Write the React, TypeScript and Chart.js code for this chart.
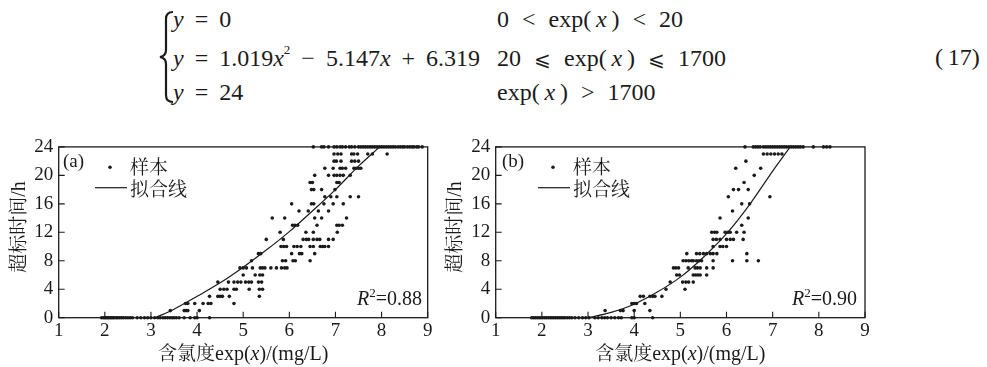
import React, { useEffect, useRef } from 'react';
import { Chart, registerables } from 'chart.js';

Chart.register(...registerables);

const INK = '#1b1b1b';
const SERIF = '"Liberation Serif", "Times New Roman", serif';
const CJK = '"Noto Serif CJK SC", "Noto Sans CJK SC", sans-serif';

// ---- axis ticks ----
const xTickValues = [1, 2, 3, 4, 5, 6, 7, 8, 9];
const yTickValues = [0, 4, 8, 12, 16, 20, 24];

// ---- hours (y) for the sample rows ----
const hours = [0, 1, 2, 3, 4, 5, 6, 7, 8, 9, 10, 11, 12, 13, 14, 15, 16, 17, 18, 19, 20, 21, 22, 23, 24];

// ---- panel (a): chloride values observed at each hour level ----
const sampleA = [
  [1.93, 1.97, 2.0, 2.03, 2.06, 2.09, 2.12, 2.15, 2.18, 2.21, 2.25, 2.28, 2.32, 2.36, 2.4, 2.45, 2.5, 2.55, 2.6, 2.7, 2.78, 2.86, 2.93, 3.0, 3.08, 3.15, 3.2, 3.26, 3.31, 3.36, 3.41, 3.46, 3.5, 3.55, 3.61, 3.72, 3.85, 3.95, 4.0, 4.27],
  [3.42, 3.72, 3.76, 3.8, 4.05],
  [3.75, 3.8, 3.95, 4.13, 4.24, 4.3, 4.8],
  [4.27, 4.45, 4.5, 4.55, 4.7, 5.35],
  [4.5, 4.58, 4.65, 4.8, 4.85, 5.13, 5.35, 5.42],
  [4.45, 4.68, 4.8, 4.88, 4.95, 5.05, 5.12, 5.18, 5.33, 5.4],
  [5.0, 5.26, 5.36, 5.42],
  [4.93, 5.0, 5.07, 5.2, 5.37, 5.42, 5.47, 5.6, 5.72, 5.83, 5.9, 5.95],
  [5.18, 5.85, 5.92, 6.08, 6.13, 6.45],
  [5.33, 5.38, 6.05, 6.22, 6.27, 6.55],
  [5.82, 5.88, 5.94, 6.1, 6.17, 6.25, 6.45, 6.52, 6.67, 6.72, 6.77, 6.85],
  [5.5, 5.87, 6.3, 6.37, 6.42, 6.52, 6.6, 6.66, 6.85, 6.95],
  [5.8, 6.36, 6.52, 7.04],
  [6.07, 6.12, 6.18, 6.6, 7.03, 7.08, 7.15],
  [5.63, 5.9, 6.55, 6.7, 7.24],
  [6.21, 6.41, 6.63, 6.85],
  [6.05, 6.48, 6.53, 6.75, 6.95, 7.17],
  [6.77, 6.9, 7.03, 7.32, 7.5],
  [6.48, 6.53, 6.7, 6.99],
  [6.45, 6.5, 7.03, 7.08],
  [6.55, 6.85, 6.97, 7.03, 7.1, 7.17, 7.32],
  [6.77, 6.95, 7.1, 7.15, 7.22, 7.4, 7.45, 7.5, 7.55],
  [6.97, 7.02, 7.12, 7.35, 7.42, 7.5],
  [6.97, 7.05, 7.12, 7.35, 7.4, 7.48, 7.7, 7.8, 8.12],
  [6.52, 6.7, 6.75, 6.85, 6.97, 7.03, 7.1, 7.15, 7.22, 7.3, 7.35, 7.42, 7.5, 7.55, 7.6, 7.65, 7.7, 7.75, 7.8, 7.85, 7.9, 7.95, 8.0, 8.05, 8.1, 8.15, 8.2, 8.25, 8.3, 8.36, 8.41, 8.46, 8.5, 8.56, 8.61, 8.66, 8.7, 8.76, 8.8, 8.88],
];
const fitAX = [3.1, 3.5, 4.0, 4.5, 5.0, 5.5, 6.0, 6.5, 7.0, 7.5, 7.96];
const fitAY = [0, 1.2, 3.0, 4.9, 7.1, 9.5, 12.1, 15.0, 18.0, 21.3, 24];

// ---- panel (b) ----
const sampleB = [
  [1.78, 1.82, 1.86, 1.9, 1.94, 1.98, 2.02, 2.06, 2.1, 2.14, 2.18, 2.22, 2.26, 2.3, 2.34, 2.38, 2.42, 2.46, 2.5, 2.55, 2.6, 2.65, 2.72, 2.8, 2.88, 2.95, 3.02, 3.15, 3.22, 3.3, 3.36, 3.42, 3.5, 3.58, 3.66, 3.72, 3.95, 4.0, 4.4],
  [3.37, 3.7, 3.76, 4.0, 4.34],
  [3.95, 4.0, 4.05, 4.23],
  [4.13, 4.2, 4.34, 4.4, 4.45, 4.6],
  [4.69, 5.1],
  [4.78, 5.05, 5.12, 5.18, 5.28],
  [4.92, 4.98, 5.28, 5.33, 5.38, 5.43, 5.57],
  [4.85, 4.9, 4.96, 5.17, 5.32, 5.37, 5.43, 5.57, 5.71],
  [5.06, 5.12, 5.18, 5.24, 5.28, 5.35, 5.41, 5.46, 5.71, 6.13, 6.44, 6.69],
  [5.14, 5.35, 5.42, 5.5, 5.57, 5.65, 5.71, 5.79, 6.44],
  [5.71, 5.86, 5.92, 6.0],
  [5.71, 5.78, 5.86, 6.0, 6.08, 6.15, 6.36],
  [5.68, 5.74, 5.79, 5.97, 6.03, 6.08, 6.22, 6.38],
  [6.33],
  [5.86, 6.47],
  [6.13],
  [6.33, 6.5],
  [6.04, 6.94],
  [6.15, 6.26, 6.47],
  [6.38],
  [6.6],
  [6.2, 6.74],
  [6.42],
  [6.8, 6.88, 6.96, 7.04, 7.12, 7.2],
  [6.4, 6.58, 6.63, 6.68, 6.73, 6.8, 6.85, 6.9, 6.95, 7.0, 7.05, 7.1, 7.15, 7.2, 7.25, 7.3, 7.35, 7.4, 7.45, 7.5, 7.55, 7.6, 7.66, 7.88, 8.1, 8.17, 8.24],
];
const fitBX = [3.0, 3.5, 4.0, 4.5, 5.0, 5.5, 6.0, 6.5, 7.0, 7.38];
const fitBY = [0, 0.75, 1.9, 3.6, 5.7, 8.5, 11.8, 15.9, 20.6, 24];

const sampleLabel = '样本';
const fitLabel = '拟合线';

type Run = { text: string; font: string; dy?: number; w?: number };

function drawRuns(ctx: CanvasRenderingContext2D, runs: Run[], x: number, y: number, align: 'left' | 'center' | 'right') {
  let total = 0;
  runs.forEach((r) => {
    ctx.font = r.font;
    r.w = ctx.measureText(r.text).width;
    total += r.w;
  });
  let cx = align === 'center' ? x - total / 2 : align === 'right' ? x - total : x;
  ctx.textAlign = 'left';
  ctx.textBaseline = 'alphabetic';
  runs.forEach((r) => {
    ctx.font = r.font;
    ctx.fillText(r.text, cx, y + (r.dy || 0));
    cx += r.w || 0;
  });
}

const decor = {
  id: 'decor',
  afterDraw(chart: any, _args: any, o: any) {
    const { ctx, chartArea, scales } = chart;
    const { left, right, top, bottom } = chartArea;
    ctx.save();
    ctx.strokeStyle = INK;
    ctx.fillStyle = INK;
    ctx.lineWidth = 1.3;
    ctx.strokeRect(left, top, right - left, bottom - top);
    // inward ticks
    ctx.lineWidth = 1.1;
    ctx.beginPath();
    scales.y.ticks.forEach((t: any) => {
      const p = scales.y.getPixelForValue(t.value);
      ctx.moveTo(left, p);
      ctx.lineTo(left + 6, p);
    });
    scales.x.ticks.forEach((t: any) => {
      const p = scales.x.getPixelForValue(t.value);
      ctx.moveTo(p, bottom);
      ctx.lineTo(p, bottom - 6);
    });
    ctx.stroke();

    // panel label
    drawRuns(ctx, [{ text: o.label, font: `19px ${SERIF}` }], left + o.labelDx, top + 19.7, 'left');

    // legend
    const lg = left + o.legendDx;
    ctx.beginPath();
    ctx.arc(lg + 15, top + 20.3, 1.8, 0, Math.PI * 2);
    ctx.fill();
    ctx.lineWidth = 1.2;
    ctx.beginPath();
    ctx.moveTo(lg, top + 40.8);
    ctx.lineTo(lg + 32, top + 40.8);
    ctx.stroke();
    const ds = chart.data.datasets;
    drawRuns(ctx, [{ text: ds[0].label, font: `19px ${CJK}` }], lg + 35, top + 26.8, 'left');
    drawRuns(ctx, [{ text: ds[1].label, font: `19px ${CJK}` }], lg + 35, top + 48.8, 'left');

    // R^2
    drawRuns(
      ctx,
      [
        { text: 'R', font: `italic 20px ${SERIF}` },
        { text: '2', font: `13px ${SERIF}`, dy: -8 },
        { text: '=' + o.r2, font: `20px ${SERIF}` },
      ],
      right - o.r2Right,
      bottom - 12.7,
      'right'
    );

    // x title
    drawRuns(
      ctx,
      [
        { text: '含氯度', font: `19px ${CJK}` },
        { text: 'exp(', font: `20px ${SERIF}` },
        { text: 'x', font: `italic 20px ${SERIF}` },
        { text: ')/(mg/L)', font: `20px ${SERIF}` },
      ],
      (left + right) / 2,
      230,
      'center'
    );

    // y title
    ctx.translate(o.yTitleX + 7.4, 97);
    ctx.rotate(-Math.PI / 2);
    drawRuns(
      ctx,
      [
        { text: '超标时间', font: `19px ${CJK}` },
        { text: '/h', font: `20px ${SERIF}` },
      ],
      0,
      0,
      'center'
    );
    ctx.restore();
  },
};

type PanelCfg = {
  left: number;
  label: string;
  r2: string;
  rows: number[][];
  fitX: number[];
  fitY: number[];
  labelDx: number;
  legendDx: number;
  r2Right: number;
  yTitleX: number;
  rightPad: number;
};

const W = 450;
const H = 237;

function Panel({ cfg }: { cfg: PanelCfg }) {
  const ref = useRef<HTMLCanvasElement>(null);
  useEffect(() => {
    const pts: { x: number; y: number }[] = [];
    cfg.rows.forEach((row, i) => row.forEach((x) => pts.push({ x, y: hours[i] })));
    const fit = cfg.fitX.map((x, i) => ({ x, y: cfg.fitY[i] }));
    const chart = new Chart(ref.current as HTMLCanvasElement, {
      type: 'scatter',
      data: {
        datasets: [
          {
            label: sampleLabel,
            data: pts,
            pointRadius: 1.8,
            pointHoverRadius: 1.8,
            pointBorderWidth: 0,
            pointBackgroundColor: INK,
            backgroundColor: INK,
            borderColor: INK,
            showLine: false,
            clip: false,
          } as any,
          {
            label: fitLabel,
            data: fit,
            showLine: true,
            pointRadius: 0,
            pointHoverRadius: 0,
            borderColor: INK,
            borderWidth: 1.2,
            tension: 0.4,
            cubicInterpolationMode: 'monotone',
            clip: false,
          } as any,
        ],
      },
      options: {
        animation: false,
        responsive: false,
        maintainAspectRatio: false,
        devicePixelRatio: 1,
        events: [],
        layout: { padding: { left: 0, right: cfg.rightPad, top: 15.7, bottom: 0 } },
        plugins: {
          legend: { display: false },
          tooltip: { enabled: false },
          decor: {
            label: cfg.label,
            r2: cfg.r2,
            labelDx: cfg.labelDx,
            legendDx: cfg.legendDx,
            r2Right: cfg.r2Right,
            yTitleX: cfg.yTitleX,
          },
        } as any,
        scales: {
          x: {
            type: 'linear',
            min: 1,
            max: 9,
            grid: { display: false, drawTicks: false },
            border: { display: false },
            afterBuildTicks: (s: any) => {
              s.ticks = xTickValues.map((v) => ({ value: v }));
            },
            afterFit: (s: any) => {
              s.height = 49.3;
            },
            ticks: {
              autoSkip: false,
              maxRotation: 0,
              padding: 2,
              color: INK,
              font: { family: SERIF, size: 19 },
            },
          },
          y: {
            type: 'linear',
            min: 0,
            max: 24,
            grid: { display: false, drawTicks: false },
            border: { display: false },
            afterBuildTicks: (s: any) => {
              s.ticks = yTickValues.map((v) => ({ value: v }));
            },
            afterFit: (s: any) => {
              s.width = 58.7;
            },
            ticks: {
              autoSkip: false,
              padding: 5.5,
              color: INK,
              font: { family: SERIF, size: 19 },
            },
          },
        },
      },
      plugins: [decor],
    });
    return () => chart.destroy();
  }, [cfg]);
  return (
    <canvas
      ref={ref}
      width={W}
      height={H}
      style={{ position: 'absolute', left: cfg.left, top: 130, width: W, height: H }}
    />
  );
}

const panels: PanelCfg[] = [
  { left: 0, label: '(a)', r2: '0.88', rows: sampleA, fitX: fitAX, fitY: fitAY, labelDx: 4.3, legendDx: 36.3, r2Right: 5.7, yTitleX: 18, rightPad: 22.3 },
  { left: 437, label: '(b)', r2: '0.90', rows: sampleB, fitX: fitBX, fitY: fitBY, labelDx: 6.3, legendDx: 42.3, r2Right: 8, yTitleX: 17, rightPad: 22 },
];

const rowStyle: React.CSSProperties = {
  position: 'absolute',
  fontSize: 24,
  lineHeight: '24px',
  whiteSpace: 'pre',
  wordSpacing: 5,
};
const rightStyle: React.CSSProperties = { ...rowStyle, wordSpacing: 7 };

const sup: React.CSSProperties = { fontSize: 13, position: 'relative', top: -12, lineHeight: 0 };
const leq: React.CSSProperties = { fontFamily: '"DejaVu Serif", serif', fontSize: 20 };
const TH = '\u2009';

function Equation() {
  return (
    <div style={{ position: 'absolute', left: 0, top: 0, width: 987, height: 120, fontFamily: SERIF, color: INK }}>
      <svg width={16} height={94} style={{ position: 'absolute', left: 159, top: 10 }} viewBox="0 0 16 94">
        <path
          d="M14,2 Q7,2 7,9 L7,40 Q7,46 1,47 Q7,48 7,54 L7,85 Q7,92 14,92"
          fill="none"
          stroke={INK}
          strokeWidth={2.2}
        />
      </svg>
      <div style={{ ...rowStyle, left: 173, top: 7 }}>
        <i>y</i> = 0
      </div>
      <div style={{ ...rowStyle, left: 173, top: 46 }}>
        <i>y</i> = 1.019<i>x</i>
        <span style={sup}>2</span> − 5.147<i>x</i> + 6.319
      </div>
      <div style={{ ...rowStyle, left: 173, top: 80 }}>
        <i>y</i> = 24
      </div>
      <div style={{ ...rightStyle, left: 497, top: 7 }}>
        0 &lt; exp({TH}<i>x</i>{TH}) &lt; 20
      </div>
      <div style={{ ...rightStyle, left: 497, top: 46 }}>
        20 <span style={leq}>⩽</span> exp({TH}<i>x</i>{TH}) <span style={leq}>⩽</span> 1700
      </div>
      <div style={{ ...rightStyle, left: 497, top: 80 }}>
        exp({TH}<i>x</i>{TH}) &gt; 1700
      </div>
      <div style={{ ...rowStyle, left: 935, top: 45 }}>{'(\u200917)'}</div>
    </div>
  );
}

export default function App() {
  return (
    <div style={{ position: 'absolute', left: 0, top: 0, width: 987, height: 367, background: '#fff' }}>
      <Equation />
      {panels.map((p) => (
        <Panel key={p.label} cfg={p} />
      ))}
    </div>
  );
}
